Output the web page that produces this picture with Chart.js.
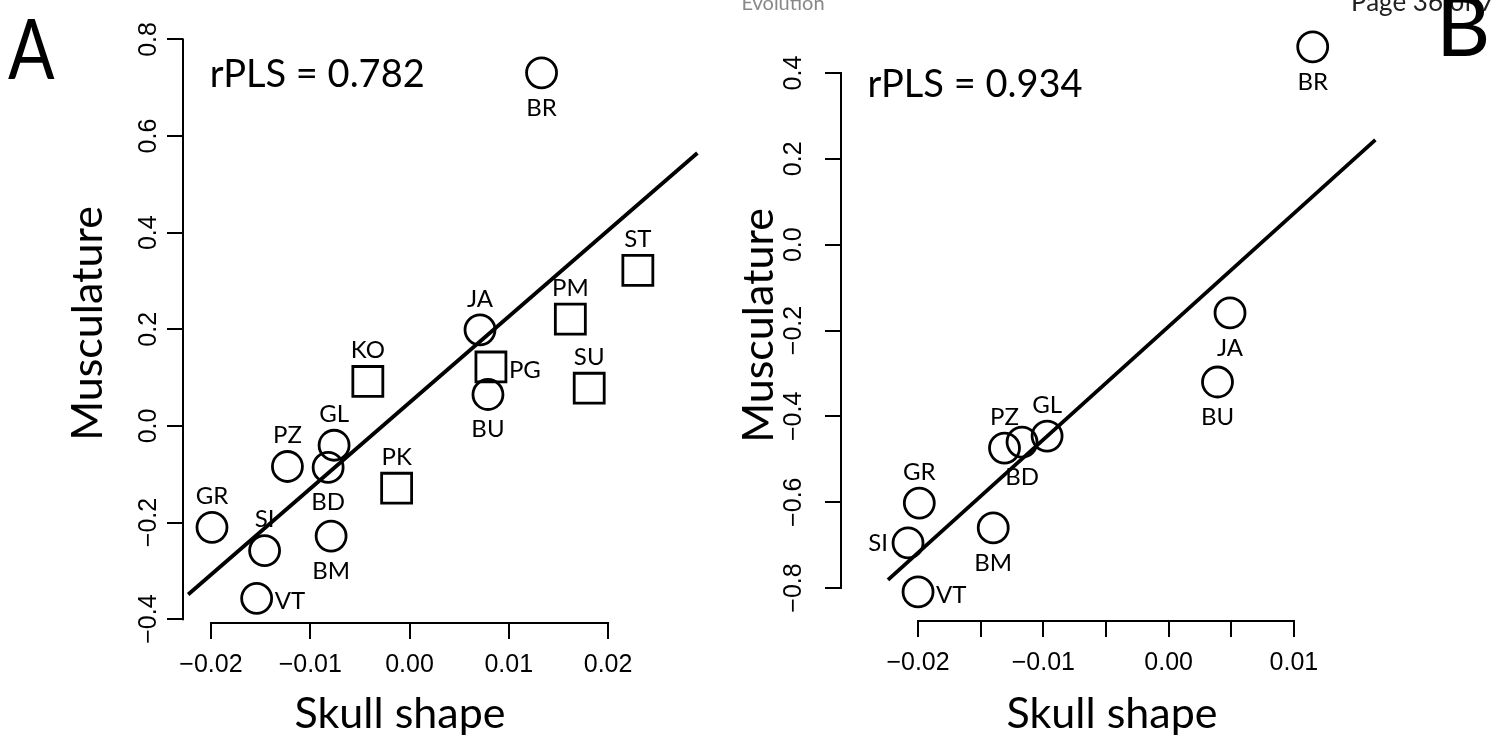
<!DOCTYPE html>
<html>
<head>
<meta charset="utf-8">
<script src="https://cdn.jsdelivr.net/npm/chart.js@4.4.1/dist/chart.umd.min.js"></script>
<style>
  html, body { margin: 0; padding: 0; background: #fff; }
  #wrap { position: relative; width: 1493px; height: 745px; overflow: hidden; }
  canvas { position: absolute; left: 0; top: 0; }
</style>
</head>
<body>
<div id="wrap">
  <canvas id="chartA" width="1493" height="745"></canvas>
  <canvas id="chartB" width="1493" height="745"></canvas>
</div>
<script>
// Panel A - circles and squares
const aCircleNames = ['BR', 'JA', 'BU', 'GL', 'PZ', 'BD', 'GR', 'SI', 'BM', 'VT'];
const aCircleX = [0.0133, 0.0071, 0.0079, -0.0076, -0.0123, -0.0082, -0.0199, -0.0146, -0.0079, -0.0154];
const aCircleY = [0.731, 0.199, 0.065, -0.040, -0.084, -0.086, -0.210, -0.258, -0.228, -0.357];
const aCircleLabelPos = ['below', 'above', 'below', 'above', 'above', 'below', 'above', 'above', 'below', 'right'];

const aSquareNames = ['ST', 'PM', 'PG', 'SU', 'KO', 'PK'];
const aSquareX = [0.0230, 0.0162, 0.0082, 0.0181, -0.0042, -0.0013];
const aSquareY = [0.322, 0.221, 0.122, 0.078, 0.092, -0.129];
const aSquareLabelPos = ['above', 'above', 'right', 'above', 'above', 'above'];

const aFitX = [-0.0223, 0.0290];
const aFitY = [-0.349, 0.565];

const aXTicks = [-0.02, -0.01, 0, 0.01, 0.02];
const aYTicks = [-0.4, -0.2, 0, 0.2, 0.4, 0.6, 0.8];

// Panel B
const bNames = ['BR', 'JA', 'BU', 'GL', 'BD', 'PZ', 'GR', 'SI', 'BM', 'VT'];
const bX = [0.0115, 0.0049, 0.0039, -0.0097, -0.0117, -0.0131, -0.0199, -0.0208, -0.0140, -0.0200];
const bY = [0.461, -0.159, -0.320, -0.446, -0.460, -0.474, -0.602, -0.695, -0.660, -0.809];
const bLabelPos = ['below', 'below', 'below', 'above', 'below', 'above', 'above', 'left', 'below', 'right'];

const bFitX = [-0.0224, 0.0165];
const bFitY = [-0.781, 0.244];

const bXTicks = [-0.02, -0.015, -0.01, -0.005, 0, 0.005, 0.01];
const bYTicks = [-0.8, -0.6, -0.4, -0.2, 0, 0.2, 0.4];

const tickFont = { family: 'Liberation Sans', size: 25 };
const titleFont = { family: 'Lato', size: 43 };

function fmt(v, digits) {
  return v.toFixed(digits).replace('-', '\u2212');
}

function toPoints(xs, ys) {
  return xs.map((x, i) => ({ x: x, y: ys[i] }));
}

function xScale(ticks, min, max, height, labelFn) {
  return {
    type: 'linear', position: 'bottom', min: min, max: max,
    afterBuildTicks: s => { s.ticks = ticks.map(v => ({ value: v })); },
    afterFit: s => { s.height = height; },
    border: { display: false },
    grid: { drawOnChartArea: false, drawTicks: true, tickLength: 16, color: '#000', lineWidth: 2 },
    ticks: { autoSkip: false, maxRotation: 0, minRotation: 0, padding: 11, color: '#000', font: tickFont, callback: labelFn },
    title: { display: true, text: 'Skull shape', color: '#000', font: titleFont, padding: { top: 0, bottom: 5 } }
  };
}

function yScale(ticks, min, max, width, tickPad, titlePad) {
  return {
    type: 'linear', position: 'left', min: min, max: max,
    afterBuildTicks: s => { s.ticks = ticks.map(v => ({ value: v })); },
    afterFit: s => { s.width = width; },
    border: { display: false },
    grid: { drawOnChartArea: false, drawTicks: true, tickLength: 16, color: '#000', lineWidth: 2 },
    ticks: { autoSkip: false, minRotation: 90, maxRotation: 90, crossAlign: 'center', padding: tickPad, color: '#000', font: tickFont, callback: v => fmt(v, 1) },
    title: { display: true, text: 'Musculature', color: '#000', font: titleFont, padding: { top: titlePad, bottom: 0 } }
  };
}

// R style axis lines: only from first to last tick
const rAxes = {
  id: 'rAxes',
  afterDraw(chart) {
    const ctx = chart.ctx;
    const sx = chart.scales.x, sy = chart.scales.y;
    const area = chart.chartArea;
    const xs = sx.ticks.map(t => sx.getPixelForValue(t.value));
    const ys = sy.ticks.map(t => sy.getPixelForValue(t.value));
    ctx.save();
    ctx.strokeStyle = '#000';
    ctx.lineWidth = 2;
    ctx.beginPath();
    ctx.moveTo(Math.min(...xs) - 1, area.bottom);
    ctx.lineTo(Math.max(...xs) + 1, area.bottom);
    ctx.moveTo(area.left, Math.min(...ys) - 1);
    ctx.lineTo(area.left, Math.max(...ys) + 1);
    ctx.stroke();
    ctx.restore();
  }
};

const pointNames = {
  id: 'pointNames',
  afterDatasetsDraw(chart) {
    const ctx = chart.ctx;
    ctx.save();
    ctx.fillStyle = '#000';
    ctx.font = '24px Lato';
    chart.data.datasets.forEach((ds, i) => {
      if (!ds.names) return;
      const meta = chart.getDatasetMeta(i);
      meta.data.forEach((pt, j) => {
        const pos = ds.labelPos[j];
        let tx = pt.x, ty = pt.y;
        ctx.textAlign = 'center';
        ctx.textBaseline = 'middle';
        if (pos === 'above') ty -= 31;
        else if (pos === 'below') ty += 35;
        else if (pos === 'right') { tx += 18; ty += 3; ctx.textAlign = 'left'; }
        else if (pos === 'left') { tx -= 20; ctx.textAlign = 'right'; }
        ctx.fillText(ds.names[j], tx, ty);
      });
    });
    ctx.restore();
  }
};

function notePlugin(text, nx, ny) {
  return {
    id: 'note',
    afterDraw(chart) {
      const ctx = chart.ctx;
      ctx.save();
      ctx.fillStyle = '#000';
      ctx.font = '38px Lato';
      ctx.textAlign = 'center';
      ctx.textBaseline = 'middle';
      ctx.fillText(text, chart.scales.x.getPixelForValue(nx), chart.scales.y.getPixelForValue(ny));
      ctx.restore();
    }
  };
}

// page decorations (panel letters and cut header)
const pageText = {
  id: 'pageText',
  afterDraw(chart) {
    const ctx = chart.ctx;
    ctx.save();
    ctx.textBaseline = 'alphabetic';
    ctx.fillStyle = '#888';
    ctx.font = '20px Lato';
    ctx.textAlign = 'center';
    ctx.fillText('Evolution', 783, 10);
    ctx.fillStyle = '#222';
    ctx.font = '26px Lato';
    ctx.textAlign = 'right';
    ctx.fillText('Page 36 of 71', 1510, 11);
    ctx.fillStyle = '#000';
    ctx.font = '84px Lato';
    ctx.textAlign = 'left';
    ctx.fillText('B', 1436, 56);
    ctx.translate(8, 79);
    ctx.scale(0.82, 1);
    ctx.fillText('A', 0, 0);
    ctx.restore();
  }
};

function circleSet(names, xs, ys, pos) {
  return {
    type: 'scatter', names: names, labelPos: pos,
    data: toPoints(xs, ys),
    pointStyle: 'circle', pointRadius: 15,
    borderColor: '#000', borderWidth: 2.8, backgroundColor: 'rgba(0,0,0,0)', clip: false
  };
}

function fitSet(xs, ys) {
  return {
    type: 'line', data: toPoints(xs, ys),
    borderColor: '#000', borderWidth: 3.8, pointRadius: 0, fill: false, clip: false
  };
}

new Chart(document.getElementById('chartA'), {
  data: {
    datasets: [
      fitSet(aFitX, aFitY),
      circleSet(aCircleNames, aCircleX, aCircleY, aCircleLabelPos),
      {
        type: 'scatter', names: aSquareNames, labelPos: aSquareLabelPos,
        data: toPoints(aSquareX, aSquareY),
        pointStyle: 'rect', pointRadius: 21.2,
        borderColor: '#000', borderWidth: 2.8, backgroundColor: 'rgba(0,0,0,0)', clip: false
      }
    ]
  },
  options: {
    responsive: false, animation: false, devicePixelRatio: 1, events: [],
    layout: { padding: { left: 43, top: 10, right: 876, bottom: 0 } },
    plugins: { legend: { display: false }, tooltip: { enabled: false } },
    scales: {
      x: xScale(aXTicks, -0.02282, 0.0209, 122, v => fmt(v, 2)),
      y: yScale(aYTicks, -0.408, 0.832, 140, -7, 19)
    }
  },
  plugins: [rAxes, pointNames, notePlugin('rPLS = 0.782', -0.0093, 0.727), pageText]
});

new Chart(document.getElementById('chartB'), {
  data: {
    datasets: [
      fitSet(bFitX, bFitY),
      circleSet(bNames, bX, bY, bLabelPos)
    ]
  },
  options: {
    responsive: false, animation: false, devicePixelRatio: 1, events: [],
    layout: { padding: { left: 721, top: 30, right: 110, bottom: 0 } },
    plugins: { legend: { display: false }, tooltip: { enabled: false } },
    scales: {
      x: xScale(bXTicks, -0.02615, 0.01711, 124, v => {
        const r = Math.abs(v * 100 - Math.round(v * 100)) < 1e-6;
        return r ? fmt(v, 2) : '';
      }),
      y: yScale(bYTicks, -0.8768, 0.5002, 120, 6, 12)
    }
  },
  plugins: [rAxes, pointNames, notePlugin('rPLS = 0.934', -0.01545, 0.372)]
});
</script>
</body>
</html>
